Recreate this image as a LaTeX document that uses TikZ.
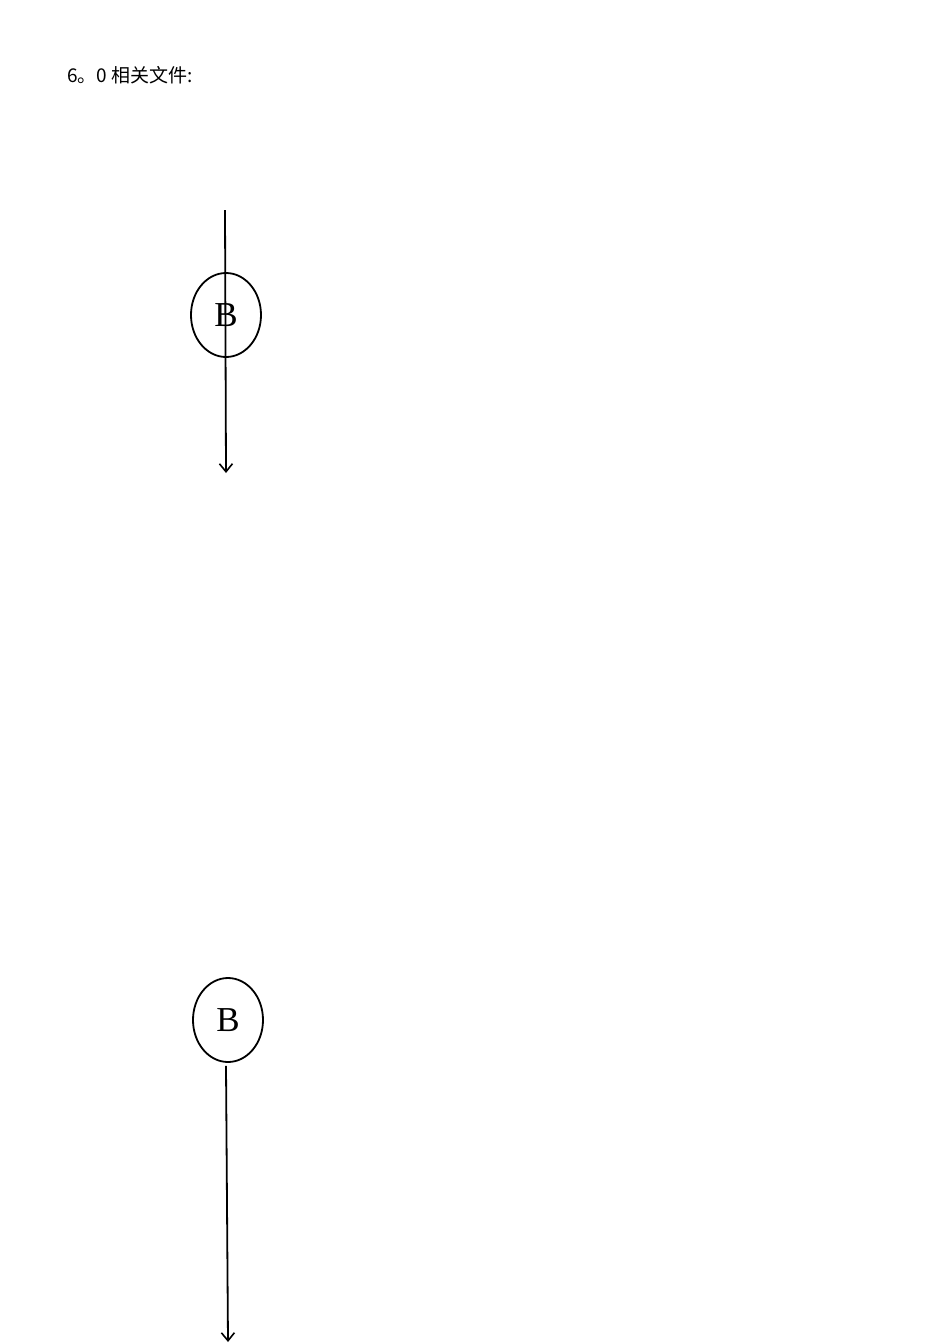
\documentclass[tikz,border=0pt]{standalone}
\usepackage{fontspec}
\setmainfont{Liberation Serif}
\newfontfamily\cjk{Noto Sans CJK SC}
\usetikzlibrary{shapes.geometric,arrows.meta}
\begin{document}
\begin{tikzpicture}[x=1pt,y=-1pt,
  circ/.style={draw,ellipse,line width=1.8pt,minimum width=70pt,minimum height=84pt,inner sep=0pt,font=\fontsize{35}{40}\selectfont},
  conn/.style={line width=1.8pt,-{Straight Barb[length=8pt,width=13pt,line width=1.6pt]}},
  title/.style={anchor=west,inner sep=0pt,font=\cjk\fontsize{19}{22}\selectfont}]
\useasboundingbox (0,0) rectangle (950,1344);
\node[title] (t) at (67,75) {6。0 相关文件:};
\node[circ] (b1) at (226,315) {B};
\coordinate (s1) at (225,210);
\coordinate (e1) at (226,473);
\draw[conn] (s1) -- (e1);
\node[circ] (b2) at (228,1020) {B};
\coordinate (e2) at (228,1342);
\draw[conn] ([shift={(-2,3)}]b2.south) -- (e2);
\end{tikzpicture}
\end{document}
